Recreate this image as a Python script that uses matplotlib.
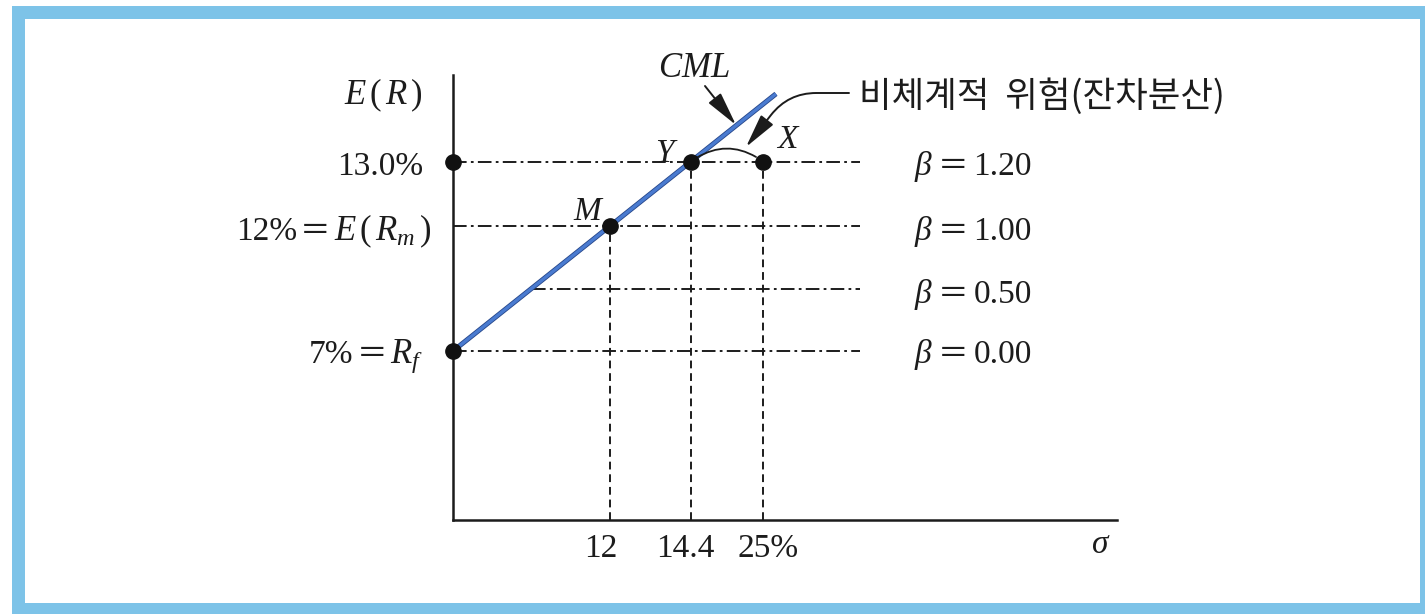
import numpy as np
import matplotlib
matplotlib.use("Agg")
import matplotlib.pyplot as plt
import matplotlib.patheffects as pe
from matplotlib.patches import Rectangle

# Portfolios on the capital market line: risk sigma (%) and expected return (%)
rf = 7.0
market_sigma, market_return = 12.0, 12.0
y_sigma, y_return = 14.4, 13.0
x_sigma, x_return = 25.0, 13.0

sigma_ticks = [12, 14.4, 25]
sigma_tick_labels = ["12", "14.4", "25%"]

# Beta levels and the expected return belonging to each
beta_labels = ["1.20", "1.00", "0.50", "0.00"]
beta_returns = [13.0, 12.0, 9.5, 7.0]
beta_line_start = [0.0, 0.0, 6.0, 0.0]

# Schematic (piecewise linear) axes: data knots -> drawing units
SIGMA_KNOTS = [0, 12, 14.4, 25, 40]
SIGMA_SPAN = [0, 157, 238, 310, 664]
RETURN_KNOTS = [0, 7, 12, 13, 16]
RETURN_SPAN = [0, 169, 294, 358.5, 445]

W, H = 1425, 614
INK = "#1c1c1c"
SERIF = "Liberation Serif"
CJK = "Noto Sans CJK KR"
FS = 24
EQ = "\uff1d"  # full-width equals sign

plt.rcParams["mathtext.fontset"] = "custom"
plt.rcParams["mathtext.rm"] = SERIF
plt.rcParams["mathtext.it"] = SERIF + ":italic"
plt.rcParams["mathtext.bf"] = SERIF + ":bold"
plt.rcParams["font.family"] = [SERIF, "DejaVu Sans"]

fig = plt.figure(figsize=(W / 100, H / 100), dpi=100)
fig.patch.set_facecolor("white")

# light blue frame around the panel
fig.patches.append(Rectangle((12 / W, 0), 1.0, 1 - 6 / H, transform=fig.transFigure,
                             facecolor="#7dc3e8", edgecolor="none", zorder=-3))
fig.patches.append(Rectangle((25 / W, 11 / H), (1420 - 25) / W, (603 - 19) / H,
                             transform=fig.transFigure, facecolor="white",
                             edgecolor="none", zorder=-2))


def fp(x, y):
    """Figure fraction from pixel position measured from the top-left."""
    return x / W, 1 - y / H


ax = fig.add_axes([453 / W, 1 - 520 / H, (1117 - 453) / W, (520 - 75) / H])
ax.patch.set_alpha(0)
ax.set_zorder(1)

sx_f = lambda v: np.interp(v, SIGMA_KNOTS, SIGMA_SPAN)
sx_i = lambda v: np.interp(v, SIGMA_SPAN, SIGMA_KNOTS)
sy_f = lambda v: np.interp(v, RETURN_KNOTS, RETURN_SPAN)
sy_i = lambda v: np.interp(v, RETURN_SPAN, RETURN_KNOTS)
ax.set_xscale("function", functions=(sx_f, sx_i))
ax.set_yscale("function", functions=(sy_f, sy_i))
ax.set_xlim(SIGMA_KNOTS[0], SIGMA_KNOTS[-1])
ax.set_ylim(RETURN_KNOTS[0], RETURN_KNOTS[-1])

for side in ("top", "right"):
    ax.spines[side].set_visible(False)
for side in ("left", "bottom"):
    ax.spines[side].set_linewidth(1.8)
    ax.spines[side].set_color(INK)

ax.set_yticks([])
ax.set_xticks(sigma_ticks)
ax.set_xticklabels(sigma_tick_labels, fontsize=FS, family=SERIF, color=INK)
ax.tick_params(axis="x", length=0, pad=10)
ax.minorticks_off()
# small typeset nudges of the sigma labels
for t, dx in zip(ax.get_xticklabels(), [-9, -6, 5]):
    t.set_transform(t.get_transform() + matplotlib.transforms.Affine2D().translate(dx, 0))

# horizontal beta reference lines (dash-dot)
line_end = float(sx_i(407))
dashdot = (0, (7, 2.2, 1.4, 2.2))
for r, s0 in zip(beta_returns, beta_line_start):
    ax.plot([s0, line_end], [r, r], color=INK, lw=1.4, ls=dashdot, zorder=2)

# vertical drops to the sigma axis
for s, r in [(market_sigma, market_return), (y_sigma, y_return), (x_sigma, x_return)]:
    ax.plot([s, s], [RETURN_KNOTS[0], r], color=INK, lw=1.4, ls=(0, (4, 2.5)), zorder=2)

# capital market line, from the risk-free rate through Y and beyond
p0 = ax.transData.transform((0.0, rf))
p1 = ax.transData.transform((y_sigma, y_return))
p_end = p0 + 1.357 * (p1 - p0)
cml_end = ax.transData.inverted().transform(p_end)
ax.plot([0.0, cml_end[0]], [rf, cml_end[1]], color="#4a7bd0", lw=2.4, zorder=3,
        solid_capstyle="butt",
        path_effects=[pe.Stroke(linewidth=3.6, foreground="#27478a"), pe.Normal()])

# points
pts_s = [0.0, 0.0, market_sigma, y_sigma, x_sigma]
pts_r = [y_return, rf, market_return, y_return, x_return]
ax.plot(pts_s, pts_r, "o", ms=11, color="#111111", clip_on=False, zorder=5)

# arc from Y to X: unsystematic (residual) risk
ax.annotate("", xy=(x_sigma, x_return), xytext=(y_sigma, y_return),
            arrowprops=dict(arrowstyle="-", connectionstyle="arc3,rad=-0.36",
                            lw=1.3, color=INK, shrinkA=5, shrinkB=6), zorder=4)

renderer = fig.canvas.get_renderer()


def label(x, y, s, ha="left", va="baseline", size=FS, **kw):
    return fig.text(*fp(x, y), s, ha=ha, va=va, fontsize=size, color=INK, **kw)


def run(x, y, pieces, ha="left", gap=3):
    """Place several text pieces side by side on one baseline."""
    texts = [label(0, y, s, **kw) for s, kw in pieces]
    widths = [t.get_window_extent(renderer).width for t in texts]
    total = sum(widths) + gap * (len(texts) - 1)
    cur = x - total if ha == "right" else x
    for t, w in zip(texts, widths):
        t.set_x(cur / W)
        cur += w + gap


eq = (EQ, dict(family=[CJK], size=22))
label(423, 104, r"$E\,(\,R\,)$", ha="right", size=25)
label(423, 175, "13.0%", ha="right")
run(431, 240, [("12%", {}), eq, (r"$E\,(\,R_m\,)$", dict(size=25))], ha="right")
run(423, 363, [("7%", {}), eq, (r"$R_f$", dict(size=25))], ha="right")
for txt, yb in zip(beta_labels, [175, 240, 303, 363]):
    run(914, yb, [(r"$\beta$", {}), eq, (txt, {})], gap=5)

label(589, 220, r"$M$", ha="center")
label(667, 162, r"$Y$", ha="center")
label(788, 148, r"$X$", ha="center")
label(694, 77, r"$CML$", ha="center", size=25)
label(1101, 553, r"$\sigma$", ha="center")
label(859, 97, "비체계적  위험(잔차분산)", va="center", size=25.5, family=[CJK])

# arrows
head = "-|>,head_length=1.05,head_width=0.24"
ax.annotate("", xy=(736, H - 125), xycoords="figure pixels",
            xytext=(705, H - 86), textcoords="figure pixels",
            arrowprops=dict(arrowstyle=head, mutation_scale=20, lw=1.4, color=INK,
                            shrinkA=0, shrinkB=0))
ax.annotate("", xy=(746, H - 147), xycoords="figure pixels",
            xytext=(849, H - 93), textcoords="figure pixels",
            arrowprops=dict(arrowstyle=head,
                            connectionstyle="angle,angleA=0,angleB=52,rad=28",
                            mutation_scale=20, lw=1.4, color=INK,
                            shrinkA=0, shrinkB=0))

fig.savefig("out.png", dpi=100, facecolor="white")
